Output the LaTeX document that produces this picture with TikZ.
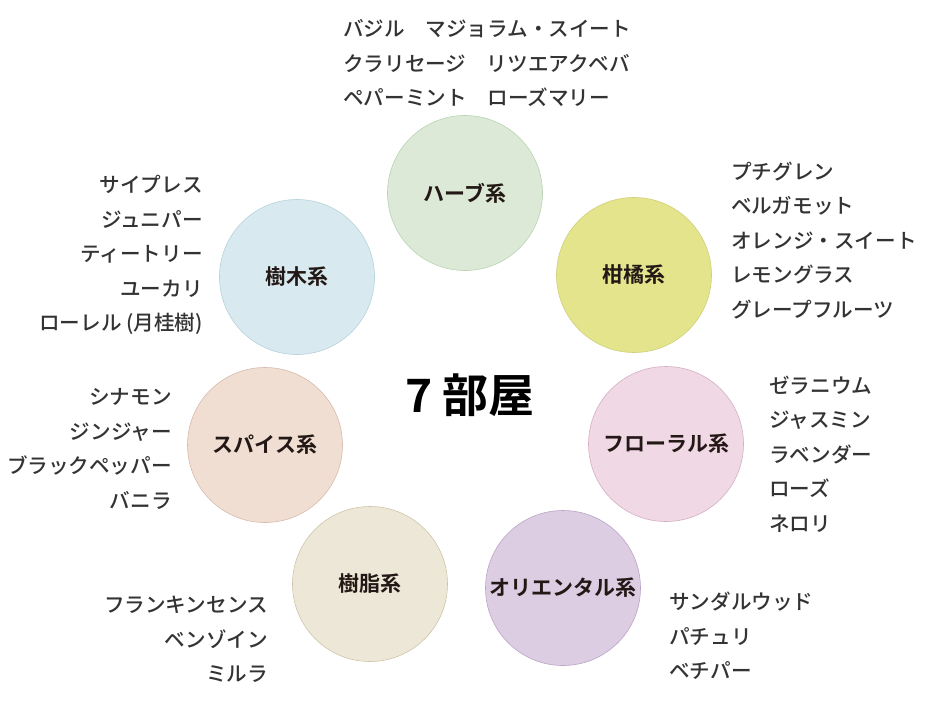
\documentclass[tikz,border=0pt]{standalone}
\usepackage{fontspec}
\setmainfont{Noto Sans CJK JP}[BoldFont={* Bold}]
\newfontfamily\medfont{Noto Sans CJK JP Medium}
\usepackage{xcolor}
\usepackage{tikz}

\definecolor{listc}{HTML}{333333}
\definecolor{labelc}{HTML}{231815}
\definecolor{herbfill}{HTML}{DCE9D6}  \definecolor{herbline}{HTML}{B9D3B2}
\definecolor{citrusfill}{HTML}{E3E48C}\definecolor{citrusline}{HTML}{CFCF7A}
\definecolor{treefill}{HTML}{D8EAEF}  \definecolor{treeline}{HTML}{B6D2DA}
\definecolor{spicefill}{HTML}{F0DED2} \definecolor{spiceline}{HTML}{D6BBAD}
\definecolor{floralfill}{HTML}{F0D8E5}\definecolor{floralline}{HTML}{D3AFC2}
\definecolor{resinfill}{HTML}{EDE7D7} \definecolor{resinline}{HTML}{CEC5A8}
\definecolor{orientfill}{HTML}{DDCDE3}\definecolor{orientline}{HTML}{BBA4C6}

\tikzset{
    room/.style={circle, minimum size=155pt, inner sep=0pt, line width=0.6pt,
        font=\fontsize{21}{24}\selectfont\bfseries, text=labelc},
    oils/.style={inner sep=0pt, font=\fontsize{20.6}{34.5}\selectfont\medfont, text=listc},
}

\begin{document}
\begin{tikzpicture}[x=1pt, y=-1pt]
    \useasboundingbox (0,0) rectangle (927,721);

    % the seven rooms
    \node[room, fill=herbfill, draw=herbline]     (herb)   at (465,193) {ハーブ系};
    \node[room, fill=citrusfill, draw=citrusline] (citrus) at (634,275) {柑橘系};
    \node[room, fill=treefill, draw=treeline]     (tree)   at (297,277) {樹木系};
    \node[room, fill=spicefill, draw=spiceline]   (spice)  at (265,445) {スパイス系};
    \node[room, fill=floralfill, draw=floralline] (floral) at (666,444) {フローラル系};
    \node[room, fill=resinfill, draw=resinline]   (resin)  at (370,584) {樹脂系};
    \node[room, fill=orientfill, draw=orientline] (orient) at (563,588) {オリエンタル系};

    \node[font=\fontsize{46}{50}\selectfont\bfseries, text=black] (title) at (470,395) {7 部屋};

    % oils of each room
    \node[oils, anchor=west, align=left] (herb-oils) at (343,63.5)
        {バジル　マジョラム・スイート\\クラリセージ　リツエアクベバ\\ペパーミント　ローズマリー};
    \node[oils, anchor=west, align=left] (citrus-oils) at (731,240.5)
        {プチグレン\\ベルガモット\\オレンジ・スイート\\レモングラス\\グレープフルーツ};
    \node[oils, anchor=east, align=right] (tree-oils) at (203,255)
        {サイプレス\\ジュニパー\\ティートリー\\ユーカリ\\ローレル (月桂樹)};
    \node[oils, anchor=east, align=right] (spice-oils) at (172,449)
        {シナモン\\ジンジャー\\ブラックペッパー\\バニラ};
    \node[oils, anchor=west, align=left] (floral-oils) at (769,454)
        {ゼラニウム\\ジャスミン\\ラベンダー\\ローズ\\ネロリ};
    \node[oils, anchor=east, align=right] (resin-oils) at (268,639.5)
        {フランキンセンス\\ベンゾイン\\ミルラ};
    \node[oils, anchor=west, align=left] (orient-oils) at (669,636)
        {サンダルウッド\\パチュリ\\ベチパー};
\end{tikzpicture}
\end{document}
